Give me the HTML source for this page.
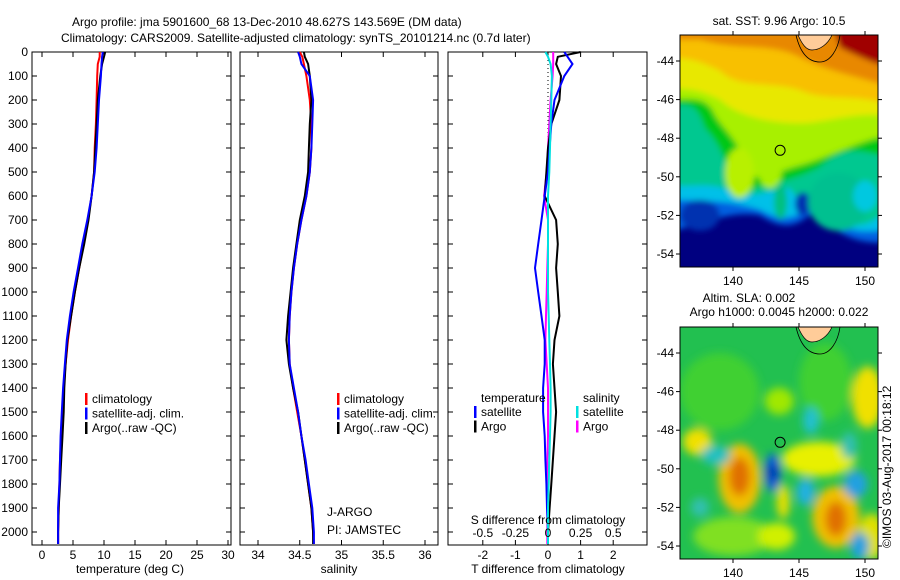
<!DOCTYPE html>
<html><head><meta charset="utf-8"><style>
body{margin:0;background:#fff;}
svg{display:block;font-family:"Liberation Sans",sans-serif;font-size:12px;}
</style></head><body>
<svg id="c" width="900" height="580" viewBox="0 0 900 580">
<defs>
<filter id="bl" x="-50%" y="-50%" width="200%" height="200%"><feGaussianBlur stdDeviation="4.5"/></filter>
<filter id="bl2" x="-50%" y="-50%" width="200%" height="200%"><feGaussianBlur stdDeviation="3"/></filter>
<clipPath id="m1c"><rect x="680" y="35" width="198" height="232"/></clipPath>
<clipPath id="m2c"><rect x="680" y="327" width="198" height="232"/></clipPath>
</defs>
<text x="72" y="26">Argo profile: jma 5901600_68 13-Dec-2010 48.627S 143.569E (DM data)</text>
<text x="61" y="42">Climatology: CARS2009. Satellite-adjusted climatology: synTS_20101214.nc (0.7d later)</text>
<g id="g"></g>
</svg>
<script>
// depths (m)
const depT=[0,20,50,100,200,300,400,500,600,700,800,900,1000,1100,1200,1300,1400,1500,1600,1700,1800,1900,2000,2050];
const tempClim=[9.3,9.3,9.0,8.9,8.8,8.7,8.5,8.4,8.0,7.4,6.7,6.0,5.3,4.7,4.2,3.8,3.5,3.3,3.1,2.9,2.8,2.7,2.6,2.6];
const tempSat=[9.8,9.7,9.6,9.5,9.2,9.0,8.8,8.5,8.0,7.3,6.5,5.8,5.1,4.5,4.0,3.7,3.4,3.2,3.0,2.9,2.8,2.6,2.6,2.6];
const tempArgo=[10.2,10.0,9.7,9.4,9.0,8.8,8.6,8.4,8.0,7.5,6.8,6.0,5.3,4.7,4.1,3.8,3.6,3.5,3.3,3.1,2.9,2.7,2.6,2.6];
const salClim=[34.5,34.53,34.55,34.58,34.62,34.64,34.64,34.62,34.58,34.52,34.47,34.43,34.40,34.38,34.37,34.38,34.42,34.47,34.52,34.56,34.60,34.64,34.66,34.67];
const salSat=[34.48,34.5,34.52,34.62,34.66,34.65,34.64,34.62,34.58,34.52,34.47,34.43,34.40,34.38,34.37,34.38,34.43,34.48,34.52,34.57,34.61,34.65,34.67,34.67];
const salArgo=[34.55,34.56,34.6,34.62,34.64,34.62,34.61,34.6,34.56,34.5,34.46,34.42,34.39,34.36,34.34,34.37,34.42,34.48,34.52,34.56,34.6,34.64,34.66,34.66];
const dTArgo=[1.0,0.3,0.25,0.4,0.35,0.1,0.0,-0.05,-0.1,0.25,0.3,0.25,0.3,0.35,0.2,0.15,0.2,0.25,0.2,0.15,0.1,0.05,0.0,0.0];
const dTSat=[0.5,0.6,0.75,0.5,0.2,0.1,0.05,0.0,-0.1,-0.2,-0.3,-0.4,-0.3,-0.2,-0.1,-0.1,-0.15,-0.15,-0.1,-0.08,-0.05,-0.03,0.0,0.0];
const dSSat=[-0.02,0.0,0.02,0.03,0.025,0.02,0.015,0.01,0.0,0.0,0.0,0.0,0.0,0.005,0.01,0.015,0.02,0.02,0.015,0.01,0.005,0.0,0.0,0.0];
const dSArgo=[0.04,0.04,0.04,0.035,0.02,0.01,0.0,-0.01,-0.03,0.0,0.0,-0.005,-0.01,-0.015,-0.02,-0.01,0.0,0.0,0.0,-0.005,0.0,0.0,-0.005,-0.005];
const depthTicks=[0,100,200,300,400,500,600,700,800,900,1000,1100,1200,1300,1400,1500,1600,1700,1800,1900,2000];
const tTicks=[0,5,10,15,20,25,30];
const sTicks=[34,34.5,35,35.5,36];
const dTTicks=[-2,-1,0,1,2];
const dSTicks=['-0.5','-0.25','0','0.25','0.5'];
const lonTicks=[140,145,150];
const latTicks=[-44,-46,-48,-50,-52,-54];
// map blobs: [lon, lat, rx(deg), ry(deg), color]
const sstBlobs=[[137.5,-52,1.5,0.8,'#0030b0'],[145.3,-51.4,0.6,0.6,'#0030b0'],[140.5,-49.8,1.1,1.3,'#b8f000'],[142.8,-49.6,0.9,1.0,'#a8f000'],[148,-51.3,2.3,1.5,'#00c090'],[150,-51,0.9,0.8,'#00c8e0'],[143.6,-51.3,0.5,0.9,'#00c080']];
const slaBlobs=[[140.5,-50.5,1.6,1.8,'#f0c000'],[140.5,-50.4,0.8,1.0,'#e07000'],[147.8,-52.5,1.8,1.6,'#f0c000'],[147.8,-52.6,0.8,0.9,'#e07000'],[146.5,-49.5,2.8,0.9,'#e8f000'],[137.3,-48.6,1.1,0.7,'#f0e000'],[150.2,-46.3,1.2,1.6,'#f0e000'],[143.3,-53.5,1.4,0.7,'#d0f000'],[143.8,-51.7,0.5,0.9,'#e8e000'],[143,-50.2,0.6,1.0,'#1060e0'],[143,-50.2,0.3,0.45,'#0020a0'],[145.5,-51.2,0.7,0.7,'#20b0e0'],[149.3,-50.8,0.9,0.7,'#20a0e0'],[138.7,-49.3,1.1,0.5,'#20c0c0'],[145.9,-47.5,0.6,0.7,'#20c0d0'],[149.6,-54,0.7,0.7,'#20a0e0'],[148.8,-48.8,0.6,0.7,'#30c0b0'],[137.5,-52,0.7,0.5,'#30c0b0'],[143.5,-46.5,1.1,0.7,'#a0e800']];

const NS='http://www.w3.org/2000/svg';
const G=document.getElementById('g');
function mk(t,a,p){const e=document.createElementNS(NS,t);for(const k in a)e.setAttribute(k,a[k]);(p||G).appendChild(e);return e;}
const Y0=52,Y1=545;
const yD=d=>52+d*0.24;
function panel(x0,x1,name){
  const r=mk('rect',{x:x0,y:Y0,width:x1-x0,height:Y1-Y0,fill:'none',stroke:'#000','stroke-width':1});
  
  
}
function line(xf,xs,ds,col,name){
  const pts=xs.map((v,i)=>xf(v).toFixed(1)+','+yD(ds[i]).toFixed(1)).join(' ');
  const p=mk('polyline',{points:pts,fill:'none',stroke:col,'stroke-width':2});
  
  
}
function txt(x,y,s,anchor,name,extra){
  const t=mk('text',Object.assign({x:x,y:y,'text-anchor':anchor||'start'},extra||{}));
  t.textContent=s;
  
  
  return t;
}
function xticks(xf,ticks,labels,name){
  ticks.forEach((v,i)=>{
    const x=xf(v);
    mk('line',{x1:x,x2:x,y1:Y1,y2:Y1-5,stroke:'#000'});
    mk('line',{x1:x,x2:x,y1:Y0,y2:Y0+5,stroke:'#000'});
    txt(x,Y1+14,labels?labels[i]:String(v),'middle',name+'-tick-label');
  });
}
function yticks(x0,x1){
  depthTicks.forEach(d=>{
    mk('line',{x1:x0,x2:x0+5,y1:yD(d),y2:yD(d),stroke:'#000'});
    mk('line',{x1:x1,x2:x1-5,y1:yD(d),y2:yD(d),stroke:'#000'});
  });
}
// panel 1 temperature
const xT=v=>42+v*6.2;
panel(32,231,'temperature-panel');
yticks(32,231);
depthTicks.forEach(d=>txt(28,yD(d)+4,String(d),'end','depth-tick-label'));
xticks(xT,tTicks,null,'temperature');
line(xT,tempClim,depT,'#ff0000','temp-climatology-line');
line(xT,tempArgo,depT,'#000000','temp-argo-line');
line(xT,tempSat,depT,'#0000ff','temp-satellite-line');
txt(130,573,'temperature (deg C)','middle','temperature-axis-title');
function legend(x,y,items,pre){
  items.forEach((it,i)=>{
    const r=mk('rect',{x:x,y:y+i*14.5-10,width:2.5,height:12,fill:it[0]});
    
    
    txt(x+7,y+i*14.5,it[1],'start',pre+'-legend-entry');
  });
}
legend(85,403,[['#ff0000','climatology'],['#0000ff','satellite-adj. clim.'],['#000','Argo(..raw -QC)']],'temp');
// panel 2 salinity
const xS=v=>258+(v-34)*83.5;
panel(240,438,'salinity-panel');
yticks(240,438);
xticks(xS,sTicks,null,'salinity');
line(xS,salClim,depT,'#ff0000','sal-climatology-line');
line(xS,salArgo,depT,'#000000','sal-argo-line');
line(xS,salSat,depT,'#0000ff','sal-satellite-line');
txt(339,573,'salinity','middle','salinity-axis-title');
legend(337,403,[['#ff0000','climatology'],['#0000ff','satellite-adj. clim.'],['#000','Argo(..raw -QC)']],'sal');
txt(327,516,'J-ARGO','start','program-label');
txt(327,534,'PI: JAMSTEC','start','pi-label');
// panel 3 differences
const xDT=v=>548+v*32.6;
const xDS=v=>548+v*130.4;
panel(448,647,'difference-panel');
yticks(448,647);
xticks(xDT,dTTicks,null,'t-diff');
mk('line',{x1:548,x2:548,y1:52,y2:140,stroke:'#000','stroke-dasharray':'1,3'});
line(xDS,dSArgo,depT,'#ff00ff','s-diff-argo-line');
line(xDT,dTArgo,depT,'#000000','t-diff-argo-line');
line(xDT,dTSat,depT,'#0000ff','t-diff-satellite-line');
line(xDS,dSSat,depT,'#00e0e0','s-diff-satellite-line');
dSTicks.forEach(s=>txt(xDS(parseFloat(s)),537,s,'middle','s-diff-tick-label'));
txt(548,524,'S difference from climatology','middle','s-diff-axis-title');
txt(548,573,'T difference from climatology','middle','t-diff-axis-title');
txt(481,402,'temperature','start','temp-legend-title');
txt(583,402,'salinity','start','sal-legend-title');
legend(474,416,[['#0000ff','satellite'],['#000','Argo']],'tdiff');
legend(576,416,[['#00e0e0','satellite'],['#ff00ff','Argo']],'sdiff');
// maps
const lx=v=>733+(v-140)*13.2;
// map1 SST
{
  const lt=v=>61+(-44-v)*19.3;
  const g=mk('g',{'clip-path':'url(#m1c)'});
  
  
  mk('rect',{x:680,y:35,width:198,height:232,fill:'#000080'},g);
  const fg=mk('g',{filter:'url(#bl2)'},g);
  mk('path',{d:`M660 20 H900 V${lt(-53.3)} C850 ${lt(-53.8)} 830 ${lt(-52.5)} 815 ${lt(-51.8)} C800 ${lt(-52.3)} 790 ${lt(-53)} 760 ${lt(-52)} C730 ${lt(-51.7)} 700 ${lt(-52.5)} 660 ${lt(-53)} Z`,fill:'#0060e0'},fg);
  mk('path',{d:`M660 20 H900 V${lt(-52.5)} C850 ${lt(-53.4)} 830 ${lt(-52.2)} 815 ${lt(-51.5)} C800 ${lt(-51.8)} 790 ${lt(-52.6)} 760 ${lt(-51.7)} C730 ${lt(-51.2)} 700 ${lt(-51.2)} 660 ${lt(-51.2)} Z`,fill:'#00c0e8'},fg);
  mk('path',{d:`M660 20 H900 V${lt(-51)} C870 ${lt(-53)} 840 ${lt(-53)} 828 ${lt(-51)} C818 ${lt(-50.5)} 805 ${lt(-52)} 790 ${lt(-50.6)} C770 ${lt(-50.6)} 750 ${lt(-51.3)} 730 ${lt(-50.7)} C710 ${lt(-50.3)} 700 ${lt(-50.5)} 660 ${lt(-50.5)} Z`,fill:'#00c890'},fg);
  mk('path',{d:`M660 20 H900 V${lt(-49)} C870 ${lt(-49)} 850 ${lt(-48)} 820 ${lt(-49.5)} C790 ${lt(-50.3)} 760 ${lt(-50.5)} 740 ${lt(-50.8)} C728 ${lt(-50)} 725 ${lt(-48.5)} 705 ${lt(-47.5)} C695 ${lt(-46)} 690 ${lt(-46.3)} 660 ${lt(-46.3)} Z`,fill:'#00c818'},fg);
  mk('path',{d:`M660 20 H900 V${lt(-47.8)} C870 ${lt(-47.8)} 830 ${lt(-49)} 800 ${lt(-49.4)} C770 ${lt(-49.8)} 755 ${lt(-50.5)} 745 ${lt(-49.5)} C740 ${lt(-48)} 720 ${lt(-47.5)} 712 ${lt(-46.5)} C702 ${lt(-45.8)} 690 ${lt(-46)} 660 ${lt(-46)} Z`,fill:'#a8f000'},fg);
  mk('path',{d:`M660 20 H900 V${lt(-47)} C870 ${lt(-46.5)} 840 ${lt(-47)} 810 ${lt(-47.2)} C780 ${lt(-47.3)} 740 ${lt(-47)} 720 ${lt(-46)} C700 ${lt(-45.5)} 690 ${lt(-45.4)} 660 ${lt(-45.4)} Z`,fill:'#e8e800'},fg);
  mk('path',{d:`M660 20 H900 V${lt(-46.5)} C860 ${lt(-45.5)} 830 ${lt(-46.2)} 800 ${lt(-45.5)} C770 ${lt(-45)} 740 ${lt(-45.5)} 720 ${lt(-44.5)} C700 ${lt(-44)} 690 ${lt(-43.8)} 660 ${lt(-43.8)} Z`,fill:'#f8c000'},fg);
  mk('path',{d:`M660 20 H900 V${lt(-45.5)} C860 ${lt(-44.8)} 830 ${lt(-44.6)} 800 ${lt(-43.8)} C770 ${lt(-43)} 740 ${lt(-43.5)} 700 ${lt(-42.9)} L660 ${lt(-42.9)} Z`,fill:'#e88800'},fg);
  mk('path',{d:`M830 20 H900 V${lt(-44.4)} C880 ${lt(-44.3)} 860 ${lt(-43.8)} 840 ${lt(-43.3)} Z`,fill:'#a00000'},fg);
  sstBlobs.forEach(b=>{mk('ellipse',{cx:lx(b[0]),cy:lt(b[1]),rx:b[2]*13.2,ry:b[3]*19.3,fill:b[4]},fg);});
  mk('path',{d:`M798 35 C802 44 806 50 812 50 C820 50 828 44 832 35 Z`,fill:'#ffcc99',stroke:'#000','stroke-width':0.7},g);
  mk('path',{d:`M796 35 C800 52 808 62 820 62 C830 62 838 50 840 35`,fill:'none',stroke:'#000','stroke-width':0.8},g);
}
// map2 SLA
{
  const lt=v=>353+(-44-v)*19.3;
  const g=mk('g',{'clip-path':'url(#m2c)'});
  
  
  mk('rect',{x:680,y:327,width:198,height:232,fill:'#22c050'},g);
  const fg=mk('g',{filter:'url(#bl)'},g);
  [[139,-46,3,2,'#40d030'],[147,-45.5,2,2,'#40d030'],[140,-53.5,3,1,'#80e020'],[150.5,-53.5,1,1.2,'#e0e000']].forEach(b=>mk('ellipse',{cx:lx(b[0]),cy:lt(b[1]),rx:b[2]*13.2,ry:b[3]*19.3,fill:b[4]},fg));
  slaBlobs.forEach(b=>mk('ellipse',{cx:lx(b[0]),cy:lt(b[1]),rx:b[2]*13.2,ry:b[3]*19.3,fill:b[4]},fg));
  mk('path',{d:`M798 327 C802 336 806 342 812 342 C820 342 828 336 832 327 Z`,fill:'#ffcc99',stroke:'#000','stroke-width':0.7},g);
  mk('path',{d:`M796 327 C800 344 808 354 820 354 C830 354 838 342 840 327`,fill:'none',stroke:'#000','stroke-width':0.8},g);
}
function mapAxes(yTop,name){
  const lt=v=>yTop+26+(-44-v)*19.3;
  const r=mk('rect',{x:680,y:yTop,width:198,height:232,fill:'none',stroke:'#000'});
  
  
  lonTicks.forEach(v=>{const x=lx(v);mk('line',{x1:x,x2:x,y1:yTop,y2:yTop-4,stroke:'#000'});mk('line',{x1:x,x2:x,y1:yTop+232,y2:yTop+236,stroke:'#000'});txt(x,yTop+250,String(v),'middle',name+'-lon-label');});
  latTicks.forEach(v=>{const y=lt(v);mk('line',{x1:680,x2:676,y1:y,y2:y,stroke:'#000'});mk('line',{x1:878,x2:882,y1:y,y2:y,stroke:'#000'});txt(674,y+4,String(v),'end',name+'-lat-label');});
  const c=mk('circle',{cx:lx(143.569),cy:lt(-48.627),r:5,fill:'none',stroke:'#000','stroke-width':1});
  
  
}
mapAxes(35,'sst-map');
mapAxes(327,'sla-map');
txt(779,25,'sat. SST: 9.96 Argo: 10.5','middle','sst-map-title');
txt(749,302,'Altim. SLA: 0.002','middle','sla-map-title');
txt(779,316,'Argo h1000: 0.0045 h2000: 0.022','middle','sla-map-subtitle');
txt(0,0,'©IMOS 03-Aug-2017 00:18:12','start','imos-credit',{transform:'translate(891,548) rotate(-90)'});
</script>
</body></html>
